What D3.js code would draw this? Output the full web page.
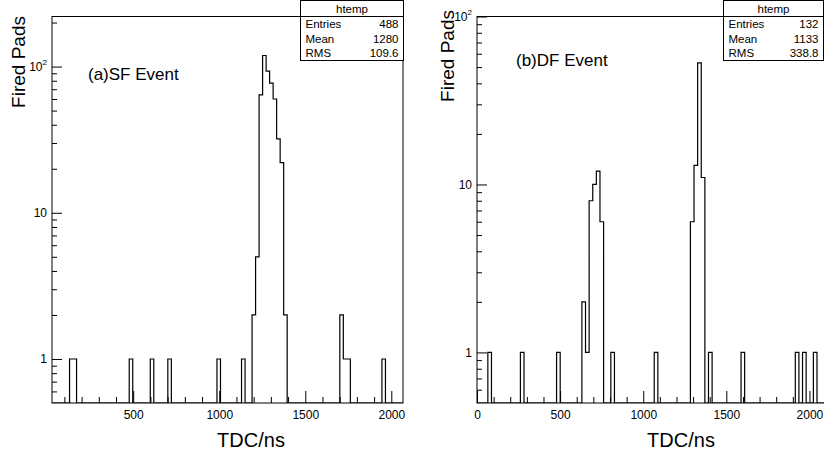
<!DOCTYPE html>
<html><head><meta charset="utf-8">
<script src="https://cdn.jsdelivr.net/npm/d3@7"></script>
<style>
body{margin:0;background:#fff}
svg{display:block}
text{font-family:"Liberation Sans",Arial,Helvetica,sans-serif;fill:#000}
</style>
</head><body>
<svg id="c" width="824" height="459"></svg>
<script>
// ---- data (100-bin histograms, only non-empty bins listed) ----
const sfRange = [28, 2068];
const sfBins   = [5,6,22,28,33,47,54,57,58,59,60,61,62,63,64,65,66,82,83,84,94];
const sfCounts = [1,1,1,1,1,1,1,2,5,64,119,93,77,60,32,22,2,2,1,1,1];
const sfStatValues = ["488","1280","109.6"];
const sfTitle = "(a)SF Event";

const dfRange = [0, 2176];
const dfBins   = [3,12,22,29,30,31,32,33,34,37,49,59,60,61,62,64,73,88,90,93];
const dfCounts = [1,1,1,2,1,8,10,12,6,1,1,6,13,53,11,1,1,1,1,1];
const dfStatValues = ["132","1133","338.8"];
const dfTitle = "(b)DF Event";

const xMajorTicks = [0,500,1000,1500,2000];
const xMinorStep = 100;
const yMajorTicks = [1,10,100];
const statLabels = ["Entries","Mean","RMS"];
const statName = "htemp";
const xTitle = "TDC/ns";
const yTitle = "Fired Pads";

const svg = d3.select("#c");
let clipId = 0;

function panel(o){
  const x = d3.scaleLinear().domain(o.range).range([o.x0, o.x1]);
  const y = d3.scaleLog().domain([0.5, o.yMax]).range([o.y1, o.y0]);
  const nb = 100, bw = (o.range[1]-o.range[0])/nb;
  const full = new Array(nb).fill(0);
  o.bins.forEach((b,i)=>{ full[b] = o.counts[i]; });

  const g = svg.append("g");
  const cid = "clip"+(clipId++);
  g.append("clipPath").attr("id",cid).append("rect")
    .attr("x",o.x0).attr("y",o.y0).attr("width",o.x1-o.x0).attr("height",o.y1-o.y0);

  // histogram outline
  let d = `M${x(o.range[0])},${o.y1}`;
  full.forEach((c,i)=>{
    const yy = c>0 ? y(c) : o.y1;
    d += `V${yy}H${x(o.range[0]+(i+1)*bw)}`;
  });
  d += `V${o.y1}`;
  g.append("path").attr("d",d).attr("fill","none").attr("stroke","#000")
    .attr("stroke-width",1.2).attr("clip-path",`url(#${cid})`);

  // frame
  g.append("rect").attr("x",o.x0).attr("y",o.y0).attr("width",o.x1-o.x0).attr("height",o.y1-o.y0)
    .attr("fill","none").attr("stroke","#000").attr("stroke-width",1);

  // x axis
  const xMaj = xMajorTicks.filter(v=>v>=o.range[0] && v<=o.range[1]);
  const xMin = d3.range(0, o.range[1]+1, xMinorStep).filter(v=>v>=o.range[0] && !xMaj.includes(v));
  g.append("g").attr("transform",`translate(0,${o.y1})`)
    .call(d3.axisBottom(x).tickValues(xMin).tickSize(-6).tickFormat(""))
    .call(a=>a.select(".domain").remove());
  const xa = g.append("g").attr("transform",`translate(0,${o.y1})`)
    .call(d3.axisBottom(x).tickValues(xMaj).tickSize(-12).tickPadding(7).tickFormat(d3.format("d")))
    .call(a=>a.select(".domain").remove());
  xa.selectAll("text").attr("font-size",12).attr("font-family","Liberation Sans, Arial, sans-serif").attr("fill","#000");
  g.selectAll(".tick line").attr("stroke","#000");

  // y axis
  const yMinorVals = [];
  [0.1,1,10,100].forEach(dec=>{ for(let k=2;k<=9;k++){ const v=dec*k; if(v>0.5 && v<o.yMax) yMinorVals.push(v);} });
  g.append("g").attr("transform",`translate(${o.x0},0)`)
    .call(d3.axisLeft(y).tickValues(yMinorVals).tickSize(-5).tickFormat(""))
    .call(a=>a.select(".domain").remove());
  g.append("g").attr("transform",`translate(${o.x0},0)`)
    .call(d3.axisLeft(y).tickValues(yMajorTicks.filter(v=>v<=o.yMax)).tickSize(-10).tickFormat(""))
    .call(a=>a.select(".domain").remove());
  g.selectAll(".tick line").attr("stroke","#000");
  yMajorTicks.filter(v=>v<=o.yMax).forEach(v=>{
    const t = g.append("text").attr("x",o.x0-5).attr("y",y(v)+4.5).attr("text-anchor","end").attr("font-size",12);
    if(v<100){ t.text(String(v)); }
    else { t.text("10"); t.append("tspan").attr("font-size",8).attr("dy",-6).text("2"); }
  });

  // axis titles
  g.append("text").attr("x",o.xTitleX).attr("y",447).attr("text-anchor","middle").attr("font-size",20).text(xTitle);
  g.append("text").attr("transform",`translate(${o.yTitleX},${o.yTitleTop}) rotate(-90)`)
    .attr("text-anchor","end").attr("font-size",19).text(yTitle);

  // panel label
  g.append("text").attr("x",o.labelX).attr("y",o.labelY).attr("font-size",17).text(o.title);

  // stat box
  const sb = g.append("g");
  sb.append("rect").attr("x",o.boxX0).attr("y",0.5).attr("width",o.boxX1-o.boxX0).attr("height",60)
    .attr("fill","#fff").attr("stroke","#000").attr("stroke-width",1);
  sb.append("line").attr("x1",o.boxX0).attr("x2",o.boxX1).attr("y1",16.5).attr("y2",16.5).attr("stroke","#000");
  sb.append("text").attr("x",(o.boxX0+o.boxX1)/2).attr("y",13).attr("text-anchor","middle").attr("font-size",11.5).text(statName);
  statLabels.forEach((s,i)=>{
    sb.append("text").attr("x",o.boxX0+5).attr("y",28+i*14.5).attr("font-size",11.5).text(s);
    sb.append("text").attr("x",o.boxX1-5).attr("y",28+i*14.5).attr("text-anchor","end").attr("font-size",11.5).text(o.stats[i]);
  });
}

panel({x0:52, x1:403, y0:16.5, y1:403, range:sfRange, bins:sfBins, counts:sfCounts, yMax:220,
  stats:sfStatValues, boxX0:300.5, boxX1:403.5, title:sfTitle, labelX:88, labelY:80,
  xTitleX:251, yTitleX:25, yTitleTop:16});
panel({x0:477, x1:477+361.7, y0:16.5, y1:403, range:dfRange, bins:dfBins, counts:dfCounts, yMax:100,
  stats:dfStatValues, boxX0:723.5, boxX1:823.5, title:dfTitle, labelX:516, labelY:66,
  xTitleX:681, yTitleX:454, yTitleTop:10});
</script>
</body></html>
